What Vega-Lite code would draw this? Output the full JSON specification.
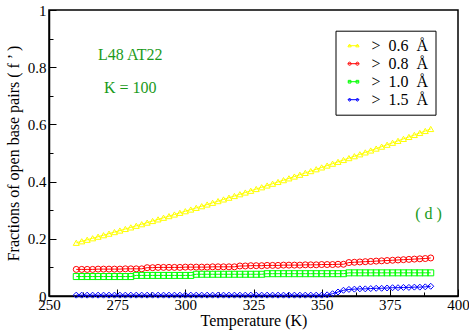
{
  "$schema": "https://vega.github.io/schema/vega-lite/v6.json",
  "width": 409,
  "height": 286,
  "autosize": {"type": "none"},
  "padding": {"left": 49, "top": 10, "right": 11, "bottom": 34},
  "config": {
    "font": "Times New Roman, Liberation Serif, serif",
    "view": {"stroke": "black", "strokeWidth": 1.5},
    "axis": {
      "grid": false,
      "domainColor": "black",
      "domainWidth": 1.5,
      "tickColor": "black",
      "tickWidth": 1,
      "labelColor": "black",
      "titleColor": "black",
      "labelFont": "Times New Roman, Liberation Serif, serif",
      "titleFont": "Times New Roman, Liberation Serif, serif",
      "labelFontSize": 15,
      "titleFontSize": 16,
      "titleFontWeight": "normal",
      "labelFlush": false
    },
    "legend": {
      "orient": "none",
      "legendX": 286.5,
      "legendY": 20.7,
      "strokeColor": "black",
      "strokeWidth": 1,
      "fillColor": "white",
      "padding": 7,
      "rowPadding": 2,
      "labelFont": "Times New Roman, Liberation Serif, serif",
      "labelFontSize": 16,
      "labelColor": "black",
      "labelOffset": 10,
      "symbolOffset": 3,
      "symbolSize": 81,
      "symbolStrokeWidth": 1
    }
  },
  "datasets": {
    "pts": [
      {"T": 260, "a": 0.1860, "b": 0.093, "c": 0.068, "d": 0.003},
      {"T": 262, "a": 0.1913, "b": 0.093, "c": 0.068, "d": 0.003},
      {"T": 264, "a": 0.1966, "b": 0.093, "c": 0.068, "d": 0.003},
      {"T": 266, "a": 0.2019, "b": 0.093, "c": 0.068, "d": 0.003},
      {"T": 268, "a": 0.2073, "b": 0.094, "c": 0.068, "d": 0.003},
      {"T": 270, "a": 0.2126, "b": 0.094, "c": 0.068, "d": 0.003},
      {"T": 272, "a": 0.2180, "b": 0.094, "c": 0.068, "d": 0.003},
      {"T": 274, "a": 0.2235, "b": 0.094, "c": 0.068, "d": 0.003},
      {"T": 276, "a": 0.2289, "b": 0.094, "c": 0.068, "d": 0.003},
      {"T": 278, "a": 0.2344, "b": 0.095, "c": 0.068, "d": 0.003},
      {"T": 280, "a": 0.2399, "b": 0.095, "c": 0.068, "d": 0.003},
      {"T": 282, "a": 0.2455, "b": 0.095, "c": 0.072, "d": 0.003},
      {"T": 284, "a": 0.2510, "b": 0.095, "c": 0.072, "d": 0.003},
      {"T": 286, "a": 0.2566, "b": 0.099, "c": 0.072, "d": 0.003},
      {"T": 288, "a": 0.2623, "b": 0.099, "c": 0.072, "d": 0.003},
      {"T": 290, "a": 0.2679, "b": 0.100, "c": 0.072, "d": 0.003},
      {"T": 292, "a": 0.2736, "b": 0.100, "c": 0.072, "d": 0.003},
      {"T": 294, "a": 0.2793, "b": 0.100, "c": 0.072, "d": 0.003},
      {"T": 296, "a": 0.2850, "b": 0.100, "c": 0.072, "d": 0.003},
      {"T": 298, "a": 0.2908, "b": 0.100, "c": 0.072, "d": 0.003},
      {"T": 300, "a": 0.2965, "b": 0.101, "c": 0.072, "d": 0.003},
      {"T": 302, "a": 0.3023, "b": 0.101, "c": 0.072, "d": 0.003},
      {"T": 304, "a": 0.3082, "b": 0.101, "c": 0.076, "d": 0.003},
      {"T": 306, "a": 0.3140, "b": 0.101, "c": 0.076, "d": 0.003},
      {"T": 308, "a": 0.3199, "b": 0.101, "c": 0.076, "d": 0.003},
      {"T": 310, "a": 0.3258, "b": 0.102, "c": 0.076, "d": 0.003},
      {"T": 312, "a": 0.3318, "b": 0.102, "c": 0.076, "d": 0.003},
      {"T": 314, "a": 0.3377, "b": 0.102, "c": 0.076, "d": 0.003},
      {"T": 316, "a": 0.3437, "b": 0.102, "c": 0.076, "d": 0.003},
      {"T": 318, "a": 0.3497, "b": 0.102, "c": 0.076, "d": 0.003},
      {"T": 320, "a": 0.3558, "b": 0.105, "c": 0.076, "d": 0.003},
      {"T": 322, "a": 0.3618, "b": 0.105, "c": 0.076, "d": 0.003},
      {"T": 324, "a": 0.3679, "b": 0.106, "c": 0.076, "d": 0.003},
      {"T": 326, "a": 0.3741, "b": 0.106, "c": 0.076, "d": 0.003},
      {"T": 328, "a": 0.3802, "b": 0.106, "c": 0.076, "d": 0.003},
      {"T": 330, "a": 0.3864, "b": 0.107, "c": 0.078, "d": 0.003},
      {"T": 332, "a": 0.3926, "b": 0.107, "c": 0.078, "d": 0.003},
      {"T": 334, "a": 0.3988, "b": 0.107, "c": 0.078, "d": 0.003},
      {"T": 336, "a": 0.4051, "b": 0.108, "c": 0.078, "d": 0.003},
      {"T": 338, "a": 0.4114, "b": 0.108, "c": 0.078, "d": 0.003},
      {"T": 340, "a": 0.4177, "b": 0.108, "c": 0.078, "d": 0.003},
      {"T": 342, "a": 0.4240, "b": 0.108, "c": 0.078, "d": 0.003},
      {"T": 344, "a": 0.4304, "b": 0.109, "c": 0.078, "d": 0.003},
      {"T": 346, "a": 0.4367, "b": 0.109, "c": 0.078, "d": 0.003},
      {"T": 348, "a": 0.4432, "b": 0.109, "c": 0.078, "d": 0.003},
      {"T": 350, "a": 0.4496, "b": 0.110, "c": 0.078, "d": 0.003},
      {"T": 352, "a": 0.4561, "b": 0.110, "c": 0.078, "d": 0.004},
      {"T": 354, "a": 0.4626, "b": 0.110, "c": 0.078, "d": 0.008},
      {"T": 356, "a": 0.4691, "b": 0.111, "c": 0.078, "d": 0.014},
      {"T": 358, "a": 0.4756, "b": 0.111, "c": 0.078, "d": 0.020},
      {"T": 360, "a": 0.4822, "b": 0.117, "c": 0.081, "d": 0.023},
      {"T": 362, "a": 0.4888, "b": 0.118, "c": 0.081, "d": 0.024},
      {"T": 364, "a": 0.4954, "b": 0.119, "c": 0.081, "d": 0.025},
      {"T": 366, "a": 0.5021, "b": 0.120, "c": 0.081, "d": 0.025},
      {"T": 368, "a": 0.5088, "b": 0.121, "c": 0.081, "d": 0.026},
      {"T": 370, "a": 0.5155, "b": 0.122, "c": 0.081, "d": 0.027},
      {"T": 372, "a": 0.5222, "b": 0.123, "c": 0.081, "d": 0.027},
      {"T": 374, "a": 0.5289, "b": 0.124, "c": 0.081, "d": 0.028},
      {"T": 376, "a": 0.5357, "b": 0.125, "c": 0.081, "d": 0.029},
      {"T": 378, "a": 0.5425, "b": 0.126, "c": 0.081, "d": 0.029},
      {"T": 380, "a": 0.5494, "b": 0.127, "c": 0.081, "d": 0.030},
      {"T": 382, "a": 0.5562, "b": 0.128, "c": 0.081, "d": 0.030},
      {"T": 384, "a": 0.5631, "b": 0.129, "c": 0.081, "d": 0.031},
      {"T": 386, "a": 0.5701, "b": 0.130, "c": 0.081, "d": 0.031},
      {"T": 388, "a": 0.5770, "b": 0.131, "c": 0.081, "d": 0.032},
      {"T": 390, "a": 0.5840, "b": 0.133, "c": 0.081, "d": 0.034}
    ],
    "notes": [
      {"T": 279.8, "f": 0.843, "txt": "L48 AT22"},
      {"T": 279.8, "f": 0.727, "txt": "K = 100"},
      {"T": 389.2, "f": 0.287, "txt": "( d )"}
    ],
    "xticks": [
      {"T": 250, "m": 1}, {"T": 262.5, "m": 0}, {"T": 275, "m": 1}, {"T": 287.5, "m": 0},
      {"T": 300, "m": 1}, {"T": 312.5, "m": 0}, {"T": 325, "m": 1}, {"T": 337.5, "m": 0},
      {"T": 350, "m": 1}, {"T": 362.5, "m": 0}, {"T": 375, "m": 1}, {"T": 387.5, "m": 0},
      {"T": 400, "m": 1}
    ],
    "yticks": [
      {"f": 0, "m": 1}, {"f": 0.1, "m": 0}, {"f": 0.2, "m": 1}, {"f": 0.3, "m": 0},
      {"f": 0.4, "m": 1}, {"f": 0.5, "m": 0}, {"f": 0.6, "m": 1}, {"f": 0.7, "m": 0},
      {"f": 0.8, "m": 1}, {"f": 0.9, "m": 0}, {"f": 1, "m": 1}
    ]
  },
  "encoding": {
    "x": {
      "field": "T",
      "type": "quantitative",
      "scale": {"domain": [250, 400], "nice": false, "zero": false},
      "axis": {
        "orient": "bottom",
        "title": "Temperature  (K)",
        "values": [250, 262.5, 275, 287.5, 300, 312.5, 325, 337.5, 350, 362.5, 375, 387.5, 400],
        "tickSize": {"condition": {"test": "datum.value % 25 == 0", "value": -7}, "value": -4},
        "labelExpr": "datum.value % 25 == 0 ? format(datum.value, 'd') : ''",
        "labelPadding": 8,
        "titlePadding": 0
      }
    },
    "y": {
      "field": "f",
      "type": "quantitative",
      "scale": {"domain": [0, 1], "nice": false, "zero": false},
      "axis": {
        "orient": "left",
        "title": "Fractions of open base pairs  ( f ’ )",
        "values": [0, 0.1, 0.2, 0.3, 0.4, 0.5, 0.6, 0.7, 0.8, 0.9, 1],
        "tickSize": {"condition": {"test": "round(datum.value * 10) % 2 == 0", "value": -7}, "value": -4},
        "labelExpr": "round(datum.value * 10) % 2 == 0 ? format(datum.value, '~g') : ''",
        "labelPadding": 10,
        "titlePadding": 6
      }
    }
  },
  "layer": [
    {
      "data": {"name": "pts"},
      "transform": [{"fold": ["a", "b", "c", "d"], "as": ["s", "f"]}],
      "mark": {"type": "line", "strokeWidth": 1},
      "encoding": {
        "color": {
          "field": "s",
          "type": "nominal",
          "scale": {"domain": ["a", "b", "c", "d"], "range": ["#ffff00", "#ff0000", "#00ff00", "#0000ff"]},
          "legend": {
            "title": null,
            "labelExpr": "datum.value == 'a' ? '>\u00a0\u00a00.6\u00a0\u00a0Å' : datum.value == 'b' ? '>\u00a0\u00a00.8\u00a0\u00a0Å' : datum.value == 'c' ? '>\u00a0\u00a01.0\u00a0\u00a0Å' : '>\u00a0\u00a01.5\u00a0\u00a0Å'"
          }
        }
      }
    },
    {
      "data": {"name": "pts"},
      "transform": [{"fold": ["a", "b", "c", "d"], "as": ["s", "f"]}],
      "mark": {
        "type": "point",
        "filled": false,
        "strokeWidth": 1,
        "opacity": 1,
        "size": 36,
        "shape": {"expr": "datum.s == 'a' ? 'triangle-up' : datum.s == 'b' ? 'circle' : datum.s == 'c' ? 'square' : 'diamond'"}
      },
      "encoding": {
        "color": {"field": "s", "type": "nominal"}
      }
    },
    {
      "data": {"name": "pts"},
      "transform": [{"fold": ["a", "b", "c", "d"], "as": ["s", "f"]}, {"filter": "datum.T < 0"}],
      "mark": {"type": "point", "filled": false, "strokeWidth": 1, "opacity": 1, "size": 81},
      "encoding": {
        "color": {"field": "s", "type": "nominal"},
        "shape": {
          "field": "s",
          "type": "nominal",
          "scale": {
            "domain": ["a", "b", "c", "d"],
            "range": [
              "M-1.2,0H1.2M-0.87,-0.37L-1.24,0.26L-0.5,0.26ZM0.87,-0.37L0.5,0.26L1.24,0.26Z",
              "M-1.2,0H1.2M-0.52,0A0.35,0.35 0 1 1 -1.22,0A0.35,0.35 0 1 1 -0.52,0M1.22,0A0.35,0.35 0 1 1 0.52,0A0.35,0.35 0 1 1 1.22,0",
              "M-1.2,0H1.2M-1.17,-0.3h0.6v0.6h-0.6ZM0.57,-0.3h0.6v0.6h-0.6Z",
              "M-1.2,0H1.2M-0.87,-0.37l0.32,0.37l-0.32,0.37l-0.32,-0.37ZM0.87,-0.37l0.32,0.37l-0.32,0.37l-0.32,-0.37Z"
            ]
          },
          "legend": {
            "title": null,
            "labelExpr": "datum.value == 'a' ? '>\u00a0\u00a00.6\u00a0\u00a0Å' : datum.value == 'b' ? '>\u00a0\u00a00.8\u00a0\u00a0Å' : datum.value == 'c' ? '>\u00a0\u00a01.0\u00a0\u00a0Å' : '>\u00a0\u00a01.5\u00a0\u00a0Å'"
          }
        }
      }
    },
    {
      "data": {"name": "notes"},
      "mark": {"type": "text", "font": "Times New Roman, Liberation Serif, serif", "fontSize": 16, "color": "#1a9a1a", "align": "center", "baseline": "middle"},
      "encoding": {"text": {"field": "txt"}}
    },
    {
      "data": {"name": "xticks"},
      "transform": [{"filter": "datum.m == 1"}],
      "mark": {"type": "rule", "color": "black", "strokeWidth": 1},
      "encoding": {"y": {"datum": 1}, "y2": {"datum": 0.9755}}
    },
    {
      "data": {"name": "xticks"},
      "transform": [{"filter": "datum.m == 0"}],
      "mark": {"type": "rule", "color": "black", "strokeWidth": 1},
      "encoding": {"y": {"datum": 1}, "y2": {"datum": 0.986}}
    },
    {
      "data": {"name": "yticks"},
      "transform": [{"filter": "datum.m == 1"}],
      "mark": {"type": "rule", "color": "black", "strokeWidth": 1},
      "encoding": {"x": {"datum": 400}, "x2": {"datum": 397.43}}
    },
    {
      "data": {"name": "yticks"},
      "transform": [{"filter": "datum.m == 0"}],
      "mark": {"type": "rule", "color": "black", "strokeWidth": 1},
      "encoding": {"x": {"datum": 400}, "x2": {"datum": 398.53}}
    }
  ]
}
